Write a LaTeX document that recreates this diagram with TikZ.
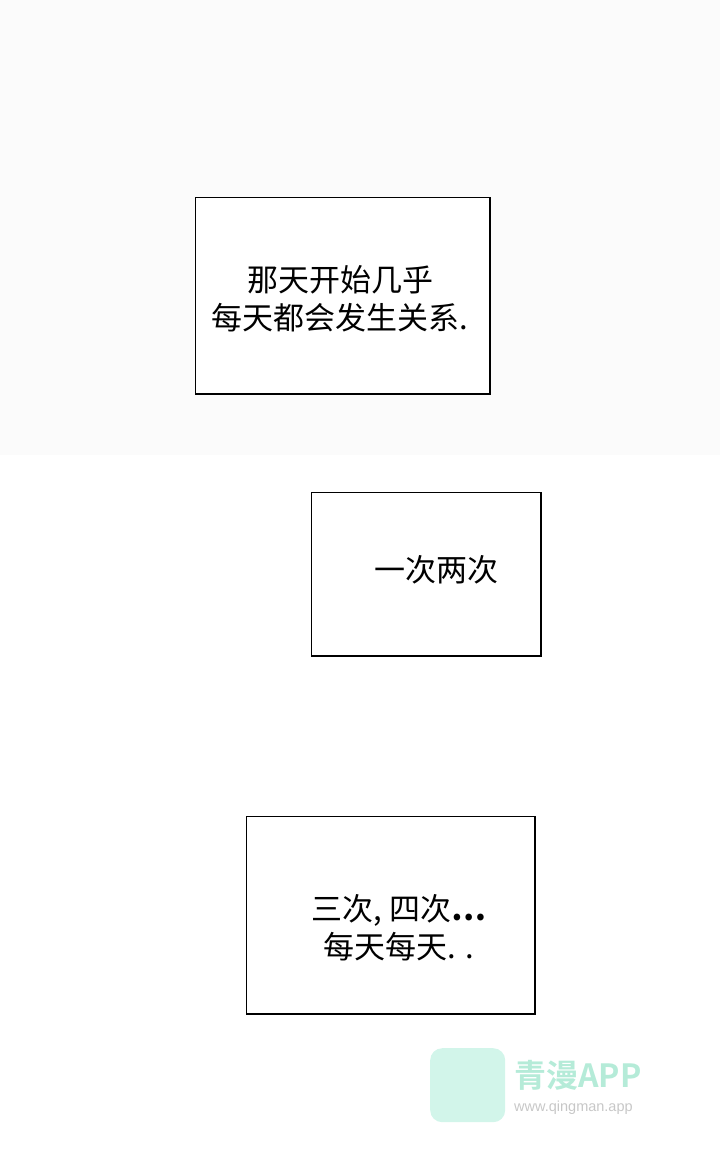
\documentclass[tikz,border=0pt]{standalone}
\usepackage{fontspec}
\setmainfont{Noto Sans CJK SC}
\newfontfamily\lat{Liberation Sans}
\newfontfamily\cjkb[BoldFont={Noto Sans CJK SC Bold}]{Noto Sans CJK SC}
\definecolor{mint}{HTML}{D2F5EA}
\definecolor{wmgreen}{HTML}{B5EBD8}
\begin{document}
\begin{tikzpicture}[x=1pt,y=-1pt,
  panel/.style={draw=black,line width=1.5pt,fill=white},
  txt/.style={font=\fontsize{31}{38}\selectfont,align=center,inner sep=0pt}]
\useasboundingbox (0,0) rectangle (720,1152);
\fill[black!1.5] (0,0) rectangle (720,455);
\node[panel,minimum width=294.5,minimum height=196.5,anchor=north west] (p1) at (194.75,196.75) {};
\node[txt] (t1) at (340,299) {那天开始几乎\\每天都会发生关系.};
\node[panel,minimum width=229.5,minimum height=163.5,anchor=north west] (p2) at (310.75,491.75) {};
\node[txt] (t2) at (436,570) {一次两次};
\node[panel,minimum width=288.5,minimum height=197.5,anchor=north west] (p3) at (245.75,815.75) {};
\node[txt] (t3) at (399,928) {三次, 四次\textbf{…}\\每天每天. .};
\node[fill=mint,rounded corners=12pt,minimum width=75,minimum height=74,anchor=north west] (logo) at (430,1048) {};
\node[font=\cjkb\bfseries\fontsize{32}{32}\selectfont,text=wmgreen,anchor=west,inner sep=0pt] (wm) at (514,1075) {青漫APP};
\node[font=\lat\fontsize{14.5}{14.5}\selectfont,text=black!22,anchor=west,inner sep=0pt] (url) at (514,1108) {www.qingman.app};
\end{tikzpicture}
\end{document}
